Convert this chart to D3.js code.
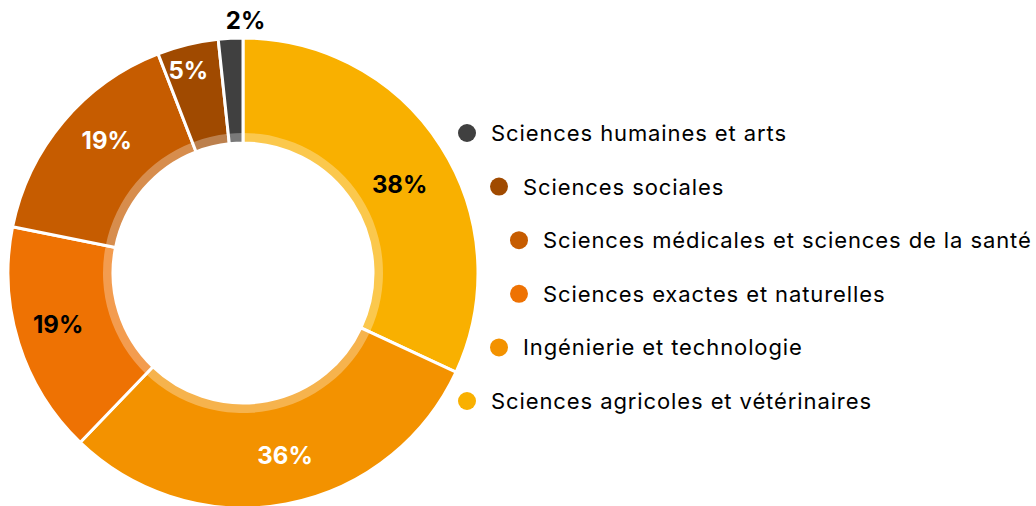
<!DOCTYPE html>
<html>
<head>
<meta charset="utf-8">
<script src="https://cdn.jsdelivr.net/npm/d3@7/dist/d3.min.js"></script>
<style>
  html, body { margin: 0; padding: 0; background: #fff; }
  svg { display: block; }
  text { font-family: Inter, "Noto Sans", sans-serif; }
</style>
</head>
<body>
<svg id="chart" width="1036" height="506"></svg>
<script>
// Disciplines, in slice order (clockwise from 12 o'clock)
const categories = [
  "Sciences agricoles et vétérinaires",
  "Ingénierie et technologie",
  "Sciences exactes et naturelles",
  "Sciences médicales et sciences de la santé",
  "Sciences sociales",
  "Sciences humaines et arts"
];
const shares = [38, 36, 19, 19, 5, 2];
const shareLabels = ["38%", "36%", "19%", "19%", "5%", "2%"];
const colors = ["#F9B000", "#F39200", "#EE7203", "#C65C00", "#A04A00", "#404040"];
const labelColors = ["#000", "#fff", "#000", "#fff", "#fff", "#000"];

const W = 1036, H = 506;
const cx = 243, cy = 273;
const outerR = 235, innerR = 130, glowR = 140;

const svg = d3.select("#chart");
const g = svg.append("g").attr("transform", `translate(${cx},${cy})`);

const pie = d3.pie().sort(null).value(d => d)(shares);
const arc = d3.arc().innerRadius(innerR).outerRadius(outerR);
const glow = d3.arc().innerRadius(innerR).outerRadius(glowR);

g.selectAll("path.slice")
  .data(pie)
  .join("path")
  .attr("class", "slice")
  .attr("d", arc)
  .attr("fill", (d, i) => colors[i])
  .attr("stroke", "#fff")
  .attr("stroke-width", 3)
  .attr("stroke-linejoin", "miter");

// soft lighter band on the inner edge of the ring
g.selectAll("path.glow")
  .data(pie)
  .join("path")
  .attr("class", "glow")
  .attr("d", glow)
  .attr("fill", "#fff")
  .attr("fill-opacity", 0.3);

// percentage labels: angle nudge (deg) and radius per slice
const labelPlace = [
  { da: 3.0, r: 180 },
  { da: -2.4, r: 187 },
  { da: 1.7, r: 192 },
  { da: 4.1, r: 190 },
  { da: -1.5, r: 210 },
  { da: 3.6, r: 253 }
];
g.selectAll("text.pct")
  .data(pie)
  .join("text")
  .attr("class", "pct")
  .each(function (d, i) {
    const a = (d.startAngle + d.endAngle) / 2 + labelPlace[i].da * Math.PI / 180;
    const r = labelPlace[i].r;
    d3.select(this)
      .attr("x", r * Math.sin(a))
      .attr("y", -r * Math.cos(a));
  })
  .attr("text-anchor", "middle")
  .attr("dominant-baseline", "central")
  .attr("font-size", 24)
  .attr("font-weight", 700)
  .attr("fill", (d, i) => labelColors[i])
  .text((d, i) => shareLabels[i]);

// legend, listed in reverse slice order, stepped along a curve
const legendOrder = d3.range(categories.length).reverse();
const legendX = [467, 499, 519, 519, 499, 467];
const legendY = d3.scalePoint().domain(d3.range(6)).range([133, 401]);

const leg = svg.append("g")
  .selectAll("g")
  .data(legendOrder)
  .join("g")
  .attr("transform", (k, j) => `translate(${legendX[j]},${legendY(j)})`);

leg.append("circle")
  .attr("r", 9)
  .attr("fill", k => colors[k]);

leg.append("text")
  .attr("x", 24)
  .attr("y", 8)
  .attr("font-size", 22)
  .attr("letter-spacing", 0.9)
  .attr("fill", "#000")
  .text(k => categories[k]);
</script>
</body>
</html>
